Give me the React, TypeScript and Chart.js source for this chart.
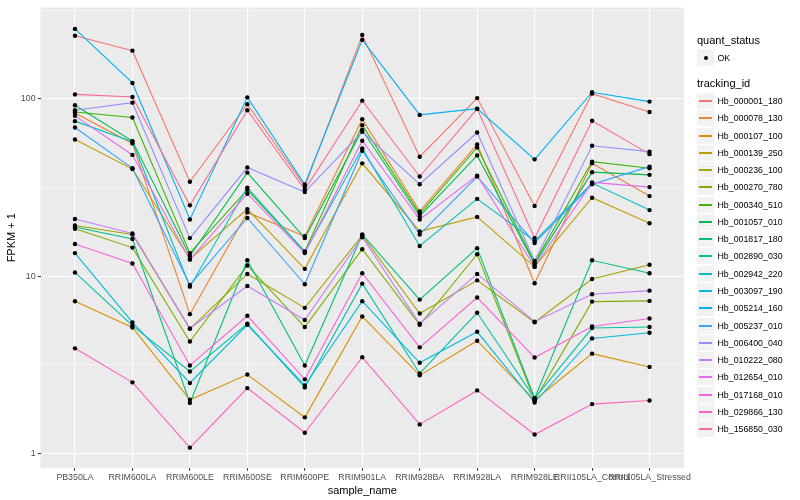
import React, { useEffect, useRef } from "react";
import { Chart, registerables } from "chart.js";

Chart.register(...registerables);

const FONT = '"Liberation Sans", Arial, Helvetica, sans-serif';

const categories = [
  "PB350LA", "RRIM600LA", "RRIM600LE", "RRIM600SE", "RRIM600PE", "RRIM901LA",
  "RRIM928BA", "RRIM928LA", "RRIM928LE", "RRII105LA_Control", "RRII105LA_Stressed",
];

const yTickValues = [1, 10, 100];
const yMinorValues = [3.162, 31.62, 316.2];

// FPKM + 1 per sample, one array per tracking_id
const hb_000001_180 = [227, 187, 34.1, 93.3, 32.1, 229, 47.2, 101, 24.9, 107, 84.4];
const hb_000078_130 = [83.3, 56.1, 6.11, 22.9, 16.8, 76.8, 23.2, 55.4, 9.12, 43.3, 28.3];
const hb_000107_100 = [7.23, 5.14, 2.01, 2.79, 1.6, 5.93, 2.76, 4.33, 2.0, 3.66, 3.08];
const hb_000139_250 = [59.0, 40.2, 12.5, 23.9, 11.0, 43.3, 17.9, 21.6, 11.3, 27.7, 19.9];
const hb_000236_100 = [19.3, 17.2, 5.05, 10.3, 6.63, 17.0, 6.16, 9.48, 5.5, 9.65, 11.6];
const hb_000270_780 = [18.5, 14.5, 4.28, 11.5, 5.17, 14.2, 5.32, 13.3, 2.0, 7.19, 7.26];
const hb_000340_510 = [84.4, 78.5, 13.5, 30.7, 13.8, 71.1, 22.5, 53.2, 11.9, 44.3, 40.6];
const hb_001057_010 = [92.1, 57.8, 13.0, 38.4, 16.4, 66.7, 21.8, 48.0, 11.7, 38.6, 37.3];
const hb_001817_180 = [18.95, 16.2, 1.93, 12.3, 3.14, 17.2, 7.38, 14.4, 2.05, 12.3, 10.4];
const hb_002890_030 = [10.5, 5.26, 2.9, 5.39, 2.36, 9.08, 2.83, 6.22, 2.05, 5.1, 5.17];
const hb_002942_220 = [74.9, 57.3, 8.73, 31.6, 13.7, 52.6, 14.8, 27.3, 15.8, 33.5, 23.6];
const hb_003097_190 = [13.5, 5.49, 2.5, 5.32, 2.42, 7.23, 3.25, 4.86, 1.94, 4.46, 4.8];
const hb_005214_160 = [248, 123, 20.9, 102, 32.9, 215, 81.2, 88.1, 45.6, 109, 96.5];
const hb_005237_010 = [68.9, 40.6, 8.93, 21.3, 9.01, 51.0, 17.2, 36.5, 15.4, 33.0, 41.5];
const hb_006400_040 = [86.3, 95.2, 16.4, 41.0, 29.8, 65.2, 33.0, 64.6, 12.2, 54.4, 50.4];
const hb_010222_080 = [21.0, 17.4, 5.08, 8.81, 5.66, 16.6, 5.39, 10.3, 5.54, 7.91, 8.29];
const hb_012654_010 = [80.2, 48.3, 12.4, 29.2, 13.5, 58.1, 20.9, 36.9, 11.3, 33.8, 31.8];
const hb_017168_010 = [15.2, 11.8, 3.14, 5.98, 2.62, 10.4, 3.97, 7.58, 3.48, 5.21, 5.78];
const hb_029866_130 = [3.92, 2.52, 1.08, 2.34, 1.31, 3.49, 1.46, 2.27, 1.28, 1.9, 1.99];
const hb_156850_030 = [106, 102.5, 25.1, 86.3, 30.8, 97.7, 36.5, 87.8, 16.4, 75.2, 48.8];

const trackingIds = [
  "Hb_000001_180", "Hb_000078_130", "Hb_000107_100", "Hb_000139_250", "Hb_000236_100",
  "Hb_000270_780", "Hb_000340_510", "Hb_001057_010", "Hb_001817_180", "Hb_002890_030",
  "Hb_002942_220", "Hb_003097_190", "Hb_005214_160", "Hb_005237_010", "Hb_006400_040",
  "Hb_010222_080", "Hb_012654_010", "Hb_017168_010", "Hb_029866_130", "Hb_156850_030",
];

const seriesValues = [
  hb_000001_180, hb_000078_130, hb_000107_100, hb_000139_250, hb_000236_100,
  hb_000270_780, hb_000340_510, hb_001057_010, hb_001817_180, hb_002890_030,
  hb_002942_220, hb_003097_190, hb_005214_160, hb_005237_010, hb_006400_040,
  hb_010222_080, hb_012654_010, hb_017168_010, hb_029866_130, hb_156850_030,
];

const seriesColors = [
  "#F8766D", "#EA8331", "#D89000", "#C09B00", "#A3A500", "#7CAE00", "#39B600",
  "#00BB4E", "#00BF7D", "#00C1A3", "#00BFC4", "#00BAE0", "#00B0F6", "#35A2FF",
  "#9590FF", "#C77CFF", "#E76BF3", "#FA62DB", "#FF62BC", "#FF6C91",
];

const isMajor = (v: number) => Math.abs(Math.log10(v) - Math.round(Math.log10(v))) < 1e-3;

export default function App() {
  const ref = useRef<HTMLCanvasElement>(null);

  useEffect(() => {
    if (!ref.current) return;
    const panelBg = {
      id: "panelBg",
      beforeDraw(chart: any) {
        const { ctx, chartArea } = chart;
        ctx.save();
        ctx.fillStyle = "#EBEBEB";
        ctx.fillRect(chartArea.left, chartArea.top, chartArea.right - chartArea.left, chartArea.bottom - chartArea.top);
        ctx.restore();
      },
    };

    const lineSets = seriesValues.map((vals, i) => ({
      label: trackingIds[i],
      data: vals.map((v, j) => ({ x: j, y: v })),
      borderColor: seriesColors[i],
      backgroundColor: seriesColors[i],
      borderWidth: 1.1,
      pointRadius: 0,
      pointHoverRadius: 0,
      tension: 0,
      fill: false,
      order: 100 - i,
    }));
    const pointSet = {
      label: "OK",
      data: seriesValues.flatMap((vals) => vals.map((v, j) => ({ x: j, y: v }))),
      showLine: false,
      borderColor: "#000",
      backgroundColor: "#000",
      pointRadius: 2.2,
      pointHoverRadius: 2.2,
      pointBorderWidth: 0,
      pointBackgroundColor: "#000",
      order: -1,
    };

    const chart = new Chart(ref.current, {
      type: "line",
      data: { datasets: [...lineSets, pointSet] as any },
      plugins: [panelBg],
      options: {
        responsive: false,
        animation: false,
        events: [],
        layout: { padding: { top: 5, right: 116, left: 0, bottom: 0 } },
        plugins: { legend: { display: false }, tooltip: { enabled: false } },
        scales: {
          x: {
            type: "linear",
            min: -0.6,
            max: 10.6,
            afterBuildTicks: (scale: any) => {
              scale.ticks = categories.map((_, i) => ({ value: i }));
            },
            afterFit: (scale: any) => {
              scale.height = 32;
            },
            ticks: {
              autoSkip: false,
              maxRotation: 0,
              minRotation: 0,
              padding: 2,
              color: "#4D4D4D",
              font: { family: FONT, size: 8.8 },
              callback: (v: any) => categories[Math.round(Number(v))] ?? "",
            },
            grid: {
              color: "#FFFFFF",
              lineWidth: 1.1,
              drawTicks: true,
              tickLength: 2.75,
              tickColor: "#333333",
              tickWidth: 1,
            },
            border: { display: false },
            title: {
              display: true,
              text: "sample_name",
              color: "#000000",
              font: { family: FONT, size: 11 },
              padding: { top: 0, bottom: 2 },
            },
          },
          y: {
            type: "logarithmic",
            min: 0.829,
            max: 327.6,
            bounds: "data",
            afterBuildTicks: (scale: any) => {
              const vals = [...yTickValues, ...yMinorValues].sort((a, b) => a - b);
              scale.ticks = vals.map((v) => ({ value: v, major: isMajor(v) }));
            },
            afterFit: (scale: any) => {
              scale.width = 40.5;
            },
            ticks: {
              autoSkip: false,
              padding: 2.2,
              color: "#4D4D4D",
              font: { family: FONT, size: 8.8 },
              callback: (v: any) => (isMajor(Number(v)) ? String(Math.round(Number(v))) : ""),
            },
            grid: {
              color: "#FFFFFF",
              lineWidth: (c: any) => (c.tick && isMajor(c.tick.value) ? 1.1 : 0.55),
              drawTicks: true,
              tickLength: 2.75,
              tickColor: (c: any) => (c.tick && isMajor(c.tick.value) ? "#333333" : "rgba(0,0,0,0)"),
              tickWidth: 1,
            },
            border: { display: false },
            title: {
              display: true,
              text: "FPKM + 1",
              color: "#000000",
              font: { family: FONT, size: 11 },
              padding: { top: 5, bottom: 0 },
            },
          },
        },
      } as any,
    });
    return () => chart.destroy();
  }, []);

  const rowH = 17.27;
  const firstRow = 101;

  return (
    <div style={{ position: "fixed", left: 0, top: 0, width: 800, height: 500, background: "#FFFFFF", fontFamily: FONT }}>
      <canvas ref={ref} width={800} height={500} style={{ width: 800, height: 500, display: "block" }} />
      <div style={{ position: "absolute", left: 697, top: 34, fontSize: 11, lineHeight: "13px", color: "#000" }}>quant_status</div>
      <div style={{ position: "absolute", left: 697, top: 49, width: 17, height: 17, background: "#F2F2F2" }}>
        <div style={{ position: "absolute", left: 6.5, top: 6.5, width: 4, height: 4, borderRadius: 2, background: "#000" }} />
      </div>
      <div style={{ position: "absolute", left: 717.5, top: 51.5, fontSize: 8.8, lineHeight: "12px", color: "#000" }}>OK</div>
      <div style={{ position: "absolute", left: 697, top: 77, fontSize: 11, lineHeight: "13px", color: "#000" }}>tracking_id</div>
      {trackingIds.map((id, i) => {
        const cy = Math.round(firstRow + rowH * i);
        return (
          <React.Fragment key={id}>
            <div
              style={{
                position: "absolute",
                left: 697,
                top: cy - 8,
                width: 17,
                height: 16,
                background: "#F2F2F2",
              }}
            >
              <div style={{ position: "absolute", left: 2, width: 13, top: 7, height: 1.5, background: seriesColors[i] }} />
            </div>
            <div style={{ position: "absolute", left: 717.5, top: cy - 6, fontSize: 8.8, lineHeight: "12px", color: "#000", whiteSpace: "nowrap" }}>
              {id}
            </div>
          </React.Fragment>
        );
      })}
    </div>
  );
}
